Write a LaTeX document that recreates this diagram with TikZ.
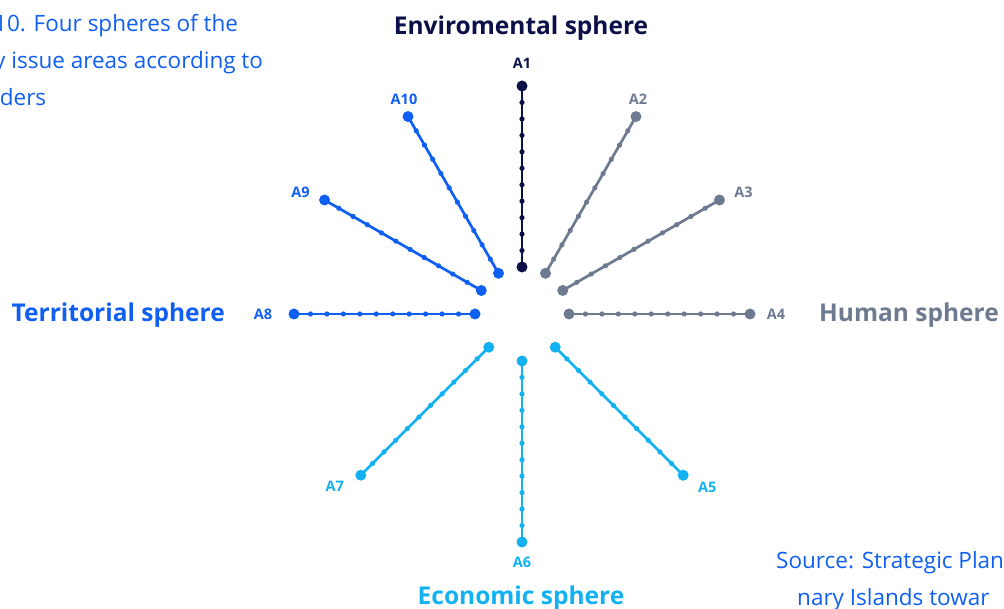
\documentclass[tikz,border=0pt]{standalone}
\usepackage{fontspec}
\setmainfont{Open Sans}
\usetikzlibrary{calc,positioning,decorations.markings}

\definecolor{envcol}{HTML}{0B1048}
\definecolor{humcol}{HTML}{6E7A90}
\definecolor{ecocol}{HTML}{12B2F2}
\definecolor{tercol}{HTML}{0F5FF2}

\begin{document}
\begin{tikzpicture}[x=1pt,y=1pt,node distance=6pt]
 \tikzstyle{bigdot}=[circle, inner sep=0pt, minimum size=11pt]
 \tikzstyle{tag}=[inner sep=0pt, font=\bfseries\fontsize{14.5}{14.5}\selectfont]
 \tikzstyle{sphere}=[inner sep=0pt, font=\bfseries\fontsize{24.5}{24.5}\selectfont]
 \tikzstyle{note}=[inner sep=0pt, align=left, text=tercol, font=\fontsize{22.5}{37}\selectfont]
 \tikzstyle{spoke}=[line width=2.7pt, postaction={decorate},
   decoration={markings, mark=between positions 0 and 1 step 1/11 with {\fill circle (2.6pt);}}]
 \useasboundingbox (0,0) rectangle (1004,608);
 \clip (0,0) rectangle (1004,608);
 \coordinate (C) at (522,294);
 % inner and outer ends of the spokes
 \node[bigdot, fill=envcol] (A1i)  at ($(C)+(90:47)$)   {};
 \node[bigdot, fill=envcol] (A1o)  at ($(C)+(90:228)$)  {};
 \node[bigdot, fill=humcol] (A2i)  at ($(C)+(60:47)$)   {};
 \node[bigdot, fill=humcol] (A2o)  at ($(C)+(60:228)$)  {};
 \node[bigdot, fill=humcol] (A3i)  at ($(C)+(30:47)$)   {};
 \node[bigdot, fill=humcol] (A3o)  at ($(C)+(30:228)$)  {};
 \node[bigdot, fill=humcol] (A4i)  at ($(C)+(0:47)$)    {};
 \node[bigdot, fill=humcol] (A4o)  at ($(C)+(0:228)$)   {};
 \node[bigdot, fill=ecocol] (A5i)  at ($(C)+(-45:47)$)  {};
 \node[bigdot, fill=ecocol] (A5o)  at ($(C)+(-45:228)$) {};
 \node[bigdot, fill=ecocol] (A6i)  at ($(C)+(-90:47)$)  {};
 \node[bigdot, fill=ecocol] (A6o)  at ($(C)+(-90:228)$) {};
 \node[bigdot, fill=ecocol] (A7i)  at ($(C)+(-135:47)$) {};
 \node[bigdot, fill=ecocol] (A7o)  at ($(C)+(-135:228)$){};
 \node[bigdot, fill=tercol] (A8i)  at ($(C)+(180:47)$)  {};
 \node[bigdot, fill=tercol] (A8o)  at ($(C)+(180:228)$) {};
 \node[bigdot, fill=tercol] (A9i)  at ($(C)+(150:47)$)  {};
 \node[bigdot, fill=tercol] (A9o)  at ($(C)+(150:228)$) {};
 \node[bigdot, fill=tercol] (A10i) at ($(C)+(120:47)$)  {};
 \node[bigdot, fill=tercol] (A10o) at ($(C)+(120:228)$) {};
 % labels
 \node[tag, text=envcol] (L1)  [above=12pt of A1o] {A1};
 \node[tag, text=humcol] (L2)  [above=6pt of A2o, xshift=2pt] {A2};
 \node[tag, text=humcol] (L3)  [right=9pt of A3o, yshift=8pt] {A3};
 \node[tag, text=humcol] (L4)  [right=11pt of A4o] {A4};
 \node[tag, text=ecocol] (L5)  [right=9pt of A5o, yshift=-12pt] {A5};
 \node[tag, text=ecocol] (L6)  [below=9pt of A6o] {A6};
 \node[tag, text=ecocol] (L7)  [left=11pt of A7o, yshift=-11pt] {A7};
 \node[tag, text=tercol] (L8)  [left=16pt of A8o] {A8};
 \node[tag, text=tercol] (L9)  [left=9pt of A9o, yshift=8pt] {A9};
 \node[tag, text=tercol] (L10) [above=6pt of A10o, xshift=-4pt] {A10};
 % sphere names
 \node[sphere, text=envcol] (env) at (521,580) {Enviromental sphere};
 \node[sphere, text=humcol, anchor=west] (hum) at (819,293) {Human sphere};
 \node[sphere, text=tercol, anchor=east] (ter) at (225,293) {Territorial sphere};
 \node[sphere, text=ecocol] (eco) at (521,10) {Economic sphere};
 % caption and source
 \node[note, anchor=north west] (cap) at (-6,594) {10. Four spheres of the\\y issue areas according to\\lders};
 \node[note, anchor=north west] (src) at (776,57) {Source: Strategic Plan\\\hspace*{21pt}nary Islands towar};
 \path
   (A1i.center)  edge[spoke, envcol] (A1o.center)
   (A2i.center)  edge[spoke, humcol] (A2o.center)
   (A3i.center)  edge[spoke, humcol] (A3o.center)
   (A4i.center)  edge[spoke, humcol] (A4o.center)
   (A5i.center)  edge[spoke, ecocol] (A5o.center)
   (A6i.center)  edge[spoke, ecocol] (A6o.center)
   (A7i.center)  edge[spoke, ecocol] (A7o.center)
   (A8i.center)  edge[spoke, tercol] (A8o.center)
   (A9i.center)  edge[spoke, tercol] (A9o.center)
   (A10i.center) edge[spoke, tercol] (A10o.center);
\end{tikzpicture}
\end{document}
